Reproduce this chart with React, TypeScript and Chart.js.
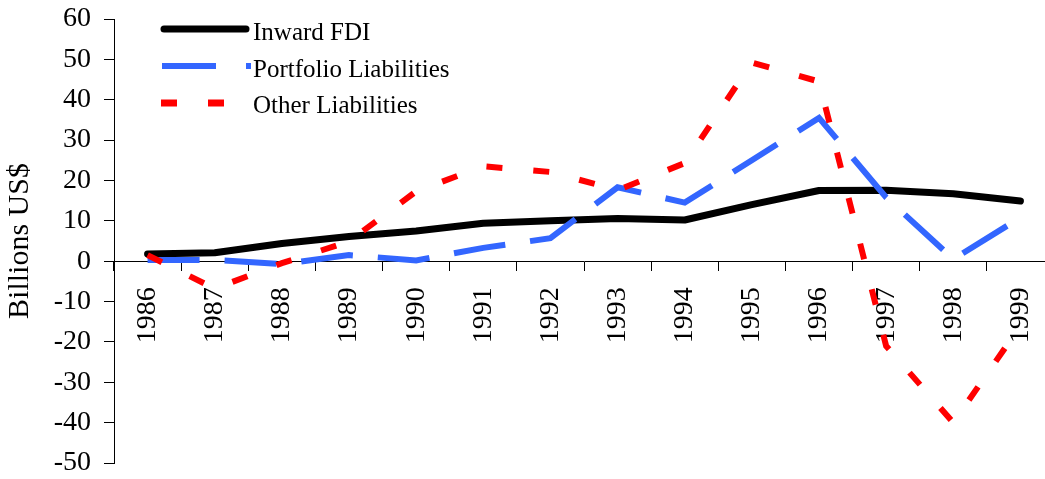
import React, { useEffect, useRef } from "react";
import { Chart, registerables } from "chart.js";

Chart.register(...registerables);

// ---- data ----
const years = ["1986", "1987", "1988", "1989", "1990", "1991", "1992", "1993", "1994", "1995", "1996", "1997", "1998", "1999"];
const inwardFDI = [1.8, 2.1, 4.4, 6.1, 7.5, 9.4, 10.0, 10.6, 10.2, 14.0, 17.5, 17.6, 16.7, 14.9];
const portfolioLiabilities = [0.3, 0.3, -0.7, 1.5, 0.2, 3.3, 5.7, 18.3, 14.5, 25.0, 35.5, 15.8, 0.5, 10.8];
const otherLiabilities = [1.5, -6.8, -0.5, 4.9, 17.3, 23.5, 22.1, 17.6, 24.3, 49.2, 44.5, -21.0, -40.0, -16.0];
const yMin = -50;
const yMax = 60;
const yStep = 10;
const yTitle = "Billions US$";

const FONT = "'Liberation Serif', 'Times New Roman', Times, serif";

const legendStyles = [
  { color: "#000000", width: 7, dash: [] as number[], cap: "round" as CanvasLineCap, x0: 164, x1: 246, y: 29, textY: 40 },
  { color: "#3366ff", width: 6, dash: [54, 30], cap: "butt" as CanvasLineCap, x0: 162, x1: 251, y: 66, textY: 77 },
  { color: "#ff0000", width: 7, dash: [16, 31], cap: "butt" as CanvasLineCap, x0: 161, x1: 248, y: 103, textY: 113 },
];

const manualLegend = {
  id: "manualLegend",
  afterDraw(chart: any) {
    const ctx: CanvasRenderingContext2D = chart.ctx;
    ctx.save();
    chart.data.datasets.forEach((ds: any, i: number) => {
      const s = legendStyles[i];
      ctx.beginPath();
      ctx.setLineDash(s.dash);
      ctx.lineCap = s.cap;
      ctx.lineWidth = s.width;
      ctx.strokeStyle = s.color;
      ctx.moveTo(s.x0, s.y);
      ctx.lineTo(s.x1, s.y);
      ctx.stroke();
      ctx.setLineDash([]);
      ctx.fillStyle = "#000";
      ctx.font = `25px ${FONT}`;
      ctx.textBaseline = "alphabetic";
      ctx.textAlign = "left";
      ctx.fillText(ds.label, 253, s.textY);
    });
    ctx.restore();
  },
};

export default function App() {
  const ref = useRef<HTMLCanvasElement>(null);

  useEffect(() => {
    if (!ref.current) return;
    const chart = new Chart(ref.current, {
      type: "line",
      data: {
        labels: years,
        datasets: [
          {
            label: "Inward FDI",
            data: inwardFDI,
            borderColor: "#000000",
            borderWidth: 7,
            borderCapStyle: "round",
            borderJoinStyle: "round",
            pointRadius: 0,
            tension: 0,
            order: 3,
          },
          {
            label: "Portfolio Liabilities",
            data: portfolioLiabilities,
            borderColor: "#3366ff",
            borderWidth: 6,
            borderDash: [52, 25],
            borderJoinStyle: "miter",
            pointRadius: 0,
            tension: 0,
            order: 2,
          },
          {
            label: "Other Liabilities",
            data: otherLiabilities,
            borderColor: "#ff0000",
            borderWidth: 6,
            borderDash: [16, 31],
            borderJoinStyle: "miter",
            pointRadius: 0,
            tension: 0,
            order: 1,
          },
        ],
      },
      options: {
        responsive: false,
        maintainAspectRatio: false,
        animation: false,
        devicePixelRatio: 1,
        layout: { padding: { top: 19, bottom: 16, left: 0, right: 6 } },
        plugins: {
          legend: { display: false },
          tooltip: { enabled: false },
        },
        scales: {
          x: {
            type: "category",
            offset: true,
            position: { y: 0 } as any,
            afterFit: (s: any) => {
              s.paddingLeft = 0;
              s.paddingRight = 0;
            },
            grid: {
              display: true,
              offset: true,
              drawOnChartArea: false,
              drawTicks: true,
              tickLength: 9,
              color: "#000",
              lineWidth: 1,
            },
            border: { display: true, color: "#000", width: 1 },
            ticks: {
              autoSkip: false,
              minRotation: 90,
              maxRotation: 90,
              padding: 17,
              color: "#000",
              font: { family: FONT, size: 28 },
            },
          },
          y: {
            type: "linear",
            min: yMin,
            max: yMax,
            afterFit: (s: any) => {
              s.width = 114;
              s.paddingTop = 0;
              s.paddingBottom = 0;
            },
            ticks: {
              stepSize: yStep,
              padding: 13,
              color: "#000",
              font: { family: FONT, size: 28 },
            },
            grid: {
              display: true,
              drawOnChartArea: false,
              drawTicks: true,
              tickLength: 10,
              color: "#000",
              lineWidth: 1,
            },
            border: { display: true, color: "#000", width: 1 },
            title: {
              display: true,
              text: yTitle,
              color: "#000",
              font: { family: FONT, size: 30 },
              padding: { top: 2, bottom: 0 },
            },
          },
        },
      },
      plugins: [manualLegend],
    });
    return () => chart.destroy();
  }, []);

  return (
    <div style={{ position: "fixed", left: 0, top: 0, width: 1045, height: 479, overflow: "hidden", background: "#fff" }}>
      <canvas ref={ref} width={1060} height={479} style={{ display: "block" }} />
    </div>
  );
}
